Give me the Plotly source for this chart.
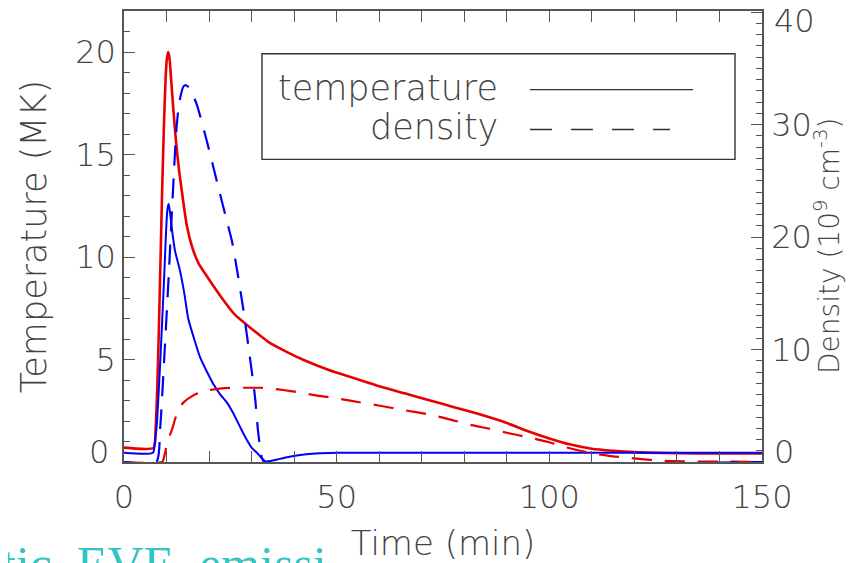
import plotly.graph_objects as go

# ---------------- data ----------------
# red case: temperature (MK, left axis) and density (1e9 cm^-3, right axis)
red_temp_time = [0, 7.0, 7.4, 7.8, 8.2, 8.6, 9.0, 9.4, 9.8, 10.1, 10.4, 10.7, 11.1, 11.6, 12.2,
                 12.9, 13.8, 14.8, 16.0, 17.5, 20.0, 23.0, 26.0, 30.0, 34.0, 38.0, 42.0, 48.0,
                 54.0, 60.0, 66.0, 72.0, 78.0, 84.0, 90.0, 95.0, 100.0, 105.0, 110.0, 115.0,
                 120.0, 127.0, 135.0, 150.0]
red_temp = [0.7, 0.7, 1.5, 3.5, 6.5, 10.0, 13.5, 16.5, 18.8, 19.7, 20.0, 19.7, 18.6, 17.2, 15.7,
            14.3, 12.9, 11.5, 10.5, 9.7, 8.9, 8.0, 7.2, 6.5, 5.85, 5.4, 5.0, 4.5,
            4.1, 3.7, 3.35, 3.0, 2.65, 2.3, 1.9, 1.5, 1.15, 0.85, 0.65, 0.55,
            0.48, 0.44, 0.42, 0.42]

red_dens_time = [0, 9.0, 9.4, 10.3, 11.3, 12.0, 12.7, 14.0, 16.2, 18.0, 20.2, 23.0, 25.6, 29.0,
                 32.0, 35.0, 37.4, 41.0, 45.4, 48.4, 53.2, 60.2, 66.0, 72.0, 77.0, 81.4, 86.0,
                 90.0, 95.0, 99.5, 104.0, 109.6, 114.0, 119.0, 126.8, 134.0, 142.5, 150.0]
red_dens = [0, 0, 0.4, 1.9, 2.9, 3.8, 4.6, 5.3, 5.9, 6.2, 6.4, 6.55, 6.6, 6.6,
            6.6, 6.5, 6.4, 6.2, 5.9, 5.75, 5.45, 5.0, 4.6, 4.2, 3.75, 3.3, 2.95,
            2.6, 2.2, 1.8, 1.3, 0.8, 0.55, 0.35, 0.1, 0.05, 0.03, 0.02]

# blue case
blue_temp_time = [0, 6.8, 7.2, 7.7, 8.1, 8.5, 9.0, 9.5, 9.9, 10.2, 10.5, 10.8, 11.3, 12.0, 13.2,
                  14.2, 15.1, 16.5, 17.9, 19.5, 21.0, 22.6, 24.2, 25.5, 26.6, 27.8, 28.9, 30.0,
                  31.3, 32.3, 33.3, 34.5, 36.0, 38.0, 41.0, 45.0, 50.0, 150.0]
blue_temp = [0.45, 0.45, 0.9, 1.8, 3.2, 4.8, 7.0, 9.3, 11.3, 12.3, 12.6, 12.2, 11.3, 10.3, 9.3,
             8.2, 7.0, 6.0, 5.1, 4.4, 3.8, 3.3, 2.9, 2.45, 2.0, 1.5, 1.07, 0.7,
             0.44, 0.2, 0.03, 0.05, 0.12, 0.22, 0.33, 0.41, 0.45, 0.45]

blue_dens_time = [0, 7.6, 8.5, 9.5, 10.5, 11.5, 12.3, 13.0, 14.0, 14.6, 15.5, 17.1, 19.5, 21.8,
                  24.2, 25.4, 26.7, 28.0, 29.6, 30.8, 31.5, 32.4, 33.0, 150.0]
blue_dens = [0, 0, 3.0, 9.5, 16.5, 24.0, 29.5, 32.0, 33.4, 33.5, 33.2, 31.8, 28.5, 25.0,
             21.4, 19.6, 16.8, 13.7, 9.3, 5.8, 2.8, 0.4, 0.0, 0.0]

x_ticks = [0, 50, 100, 150]
temp_ticks = [0, 5, 10, 15, 20]
dens_ticks = [0, 10, 20, 30, 40]
legend_labels = ["temperature", "density"]

# ---------------- styling ----------------
RED = "rgb(232,0,0)"
BLUE = "rgb(0,0,245)"
AX = "#555555"
TXT = "#444444"
FONT = "DejaVu Sans ExtraLight, DejaVu Sans"
DASH = "20px,13px"
SM = 0.6

fig = go.Figure()
fig.add_trace(go.Scatter(x=red_temp_time, y=red_temp, mode="lines",
                         line=dict(color=RED, width=2.6, shape="spline", smoothing=SM),
                         yaxis="y", name="temperature"))
fig.add_trace(go.Scatter(x=blue_temp_time, y=blue_temp, mode="lines",
                         line=dict(color=BLUE, width=2.0, shape="spline", smoothing=SM),
                         yaxis="y", name="temperature"))
fig.add_trace(go.Scatter(x=red_dens_time, y=red_dens, mode="lines",
                         line=dict(color=RED, width=2.2, dash=DASH, shape="spline", smoothing=SM),
                         yaxis="y2", name="density"))
fig.add_trace(go.Scatter(x=blue_dens_time, y=blue_dens, mode="lines",
                         line=dict(color=BLUE, width=2.2, dash=DASH, shape="spline", smoothing=SM),
                         yaxis="y2", name="density"))

# page body adds an 8px margin; work in window pixels and shift back
OFF = 8
W, H = 856 - OFF, 563 - OFF
L, R, T, B = 124, 762, 9, 462


def px(xp):
    return (xp - L) / (R - L)


def py(yp):
    return (B - yp) / (B - T)


TICK_SIZE = 32
tickfont = dict(family=FONT, size=TICK_SIZE, color=TXT, weight=200)

# end labels are nudged inwards (as IDL does), so they are written separately
temp_text = ["" if v == 0 else str(v) for v in temp_ticks]
dens_text = ["" if v in (dens_ticks[0], dens_ticks[-1]) else str(v) for v in dens_ticks]

fig.update_layout(
    width=W, height=H,
    margin=dict(l=L - OFF, r=856 - R, t=T - OFF, b=563 - B, pad=0),
    paper_bgcolor="white", plot_bgcolor="white",
    showlegend=False,
    font=dict(family=FONT, color=TXT),
    xaxis=dict(range=[0, 150], tickvals=x_ticks, ticktext=[str(v) for v in x_ticks],
               ticks="inside", ticklen=11, tickwidth=1.3, tickcolor=AX,
               minor=dict(dtick=10, ticks="inside", ticklen=6, tickwidth=1.2, tickcolor=AX),
               showline=True, linecolor=AX, linewidth=1.5, mirror="allticks",
               showgrid=False, zeroline=False, tickfont=tickfont, ticklabelstandoff=6,
               title=dict(text="Time (min)", font=dict(family=FONT, size=34, color=TXT, weight=200),
                          standoff=16)),
    yaxis=dict(range=[0, 22], tickvals=temp_ticks, ticktext=temp_text,
               ticks="inside", ticklen=11, tickwidth=1.3, tickcolor=AX,
               minor=dict(dtick=1, ticks="inside", ticklen=6, tickwidth=1.2, tickcolor=AX),
               showline=True, linecolor=AX, linewidth=1.5,
               showgrid=False, zeroline=False, tickfont=tickfont, ticklabelstandoff=0,
               title=dict(text="Temperature (MK)", font=dict(family=FONT, size=35, color=TXT, weight=200),
                          standoff=18)),
    yaxis2=dict(range=[0, 40.1], tickvals=dens_ticks, ticktext=dens_text,
                overlaying="y", side="right",
                ticks="inside", ticklen=11, tickwidth=1.3, tickcolor=AX,
                minor=dict(dtick=1, ticks="inside", ticklen=6, tickwidth=1.2, tickcolor=AX),
                showline=True, linecolor=AX, linewidth=1.5,
                showgrid=False, zeroline=False, tickfont=tickfont, ticklabelstandoff=1),
)

# nudged end tick labels
fig.add_annotation(xref="paper", yref="y", x=px(111), y=temp_ticks[0], yshift=10,
                   xanchor="right", yanchor="middle", text=str(temp_ticks[0]),
                   showarrow=False, font=tickfont)
fig.add_annotation(xref="paper", yref="y2", x=px(772), y=dens_ticks[0], yshift=10,
                   xanchor="left", yanchor="middle", text=str(dens_ticks[0]),
                   showarrow=False, font=tickfont)
fig.add_annotation(xref="paper", yref="y2", x=px(772), y=dens_ticks[-1], yshift=-9,
                   xanchor="left", yanchor="middle", text=str(dens_ticks[-1]),
                   showarrow=False, font=tickfont)

# right-hand axis title (placed as in the reference, close to the tick labels)
fig.add_annotation(xref="paper", yref="paper", x=px(828), y=py(245), xanchor="center",
                   yanchor="middle", textangle=-90, showarrow=False,
                   text="Density (10<sup>9</sup> cm<sup>-3</sup>)",
                   font=dict(family=FONT, size=28, color=TXT, weight=200))

# ---------------- legend box drawn like the IDL legend ----------------
fig.add_shape(type="rect", xref="paper", yref="paper",
              x0=px(262), x1=px(735), y0=py(158), y1=py(52),
              line=dict(color="#333333", width=1.4), fillcolor="rgba(0,0,0,0)")
fig.add_shape(type="line", xref="paper", yref="paper",
              x0=px(530), x1=px(693), y0=py(88), y1=py(88),
              line=dict(color="#333333", width=1.4))
fig.add_shape(type="line", xref="paper", yref="paper",
              x0=px(530), x1=px(670), y0=py(128), y1=py(128),
              line=dict(color="#333333", width=1.4, dash="22px,19px"))
fig.add_annotation(xref="paper", yref="paper", x=px(500), y=py(86), xanchor="right",
                   yanchor="middle", text=legend_labels[0], showarrow=False,
                   font=dict(family=FONT, size=35, color=TXT, weight=200))
fig.add_annotation(xref="paper", yref="paper", x=px(500), y=py(126), xanchor="right",
                   yanchor="middle", text=legend_labels[1], showarrow=False,
                   font=dict(family=FONT, size=35, color=TXT, weight=200))

# ---------------- cropped fragments visible at the picture edges ----------------
fig.add_annotation(xref="paper", yref="paper", x=px(4), y=py(497), xanchor="right",
                   yanchor="middle", text="0", showarrow=False,
                   font=tickfont)
fig.add_annotation(xref="paper", yref="paper", x=px(0), y=py(534), xanchor="left",
                   yanchor="top", text="tic&nbsp;&nbsp;EVE&nbsp;&nbsp;emissi", showarrow=False,
                   font=dict(family="Liberation Serif", size=50, color="#33c4c4"))

fig.write_html("out.html")
